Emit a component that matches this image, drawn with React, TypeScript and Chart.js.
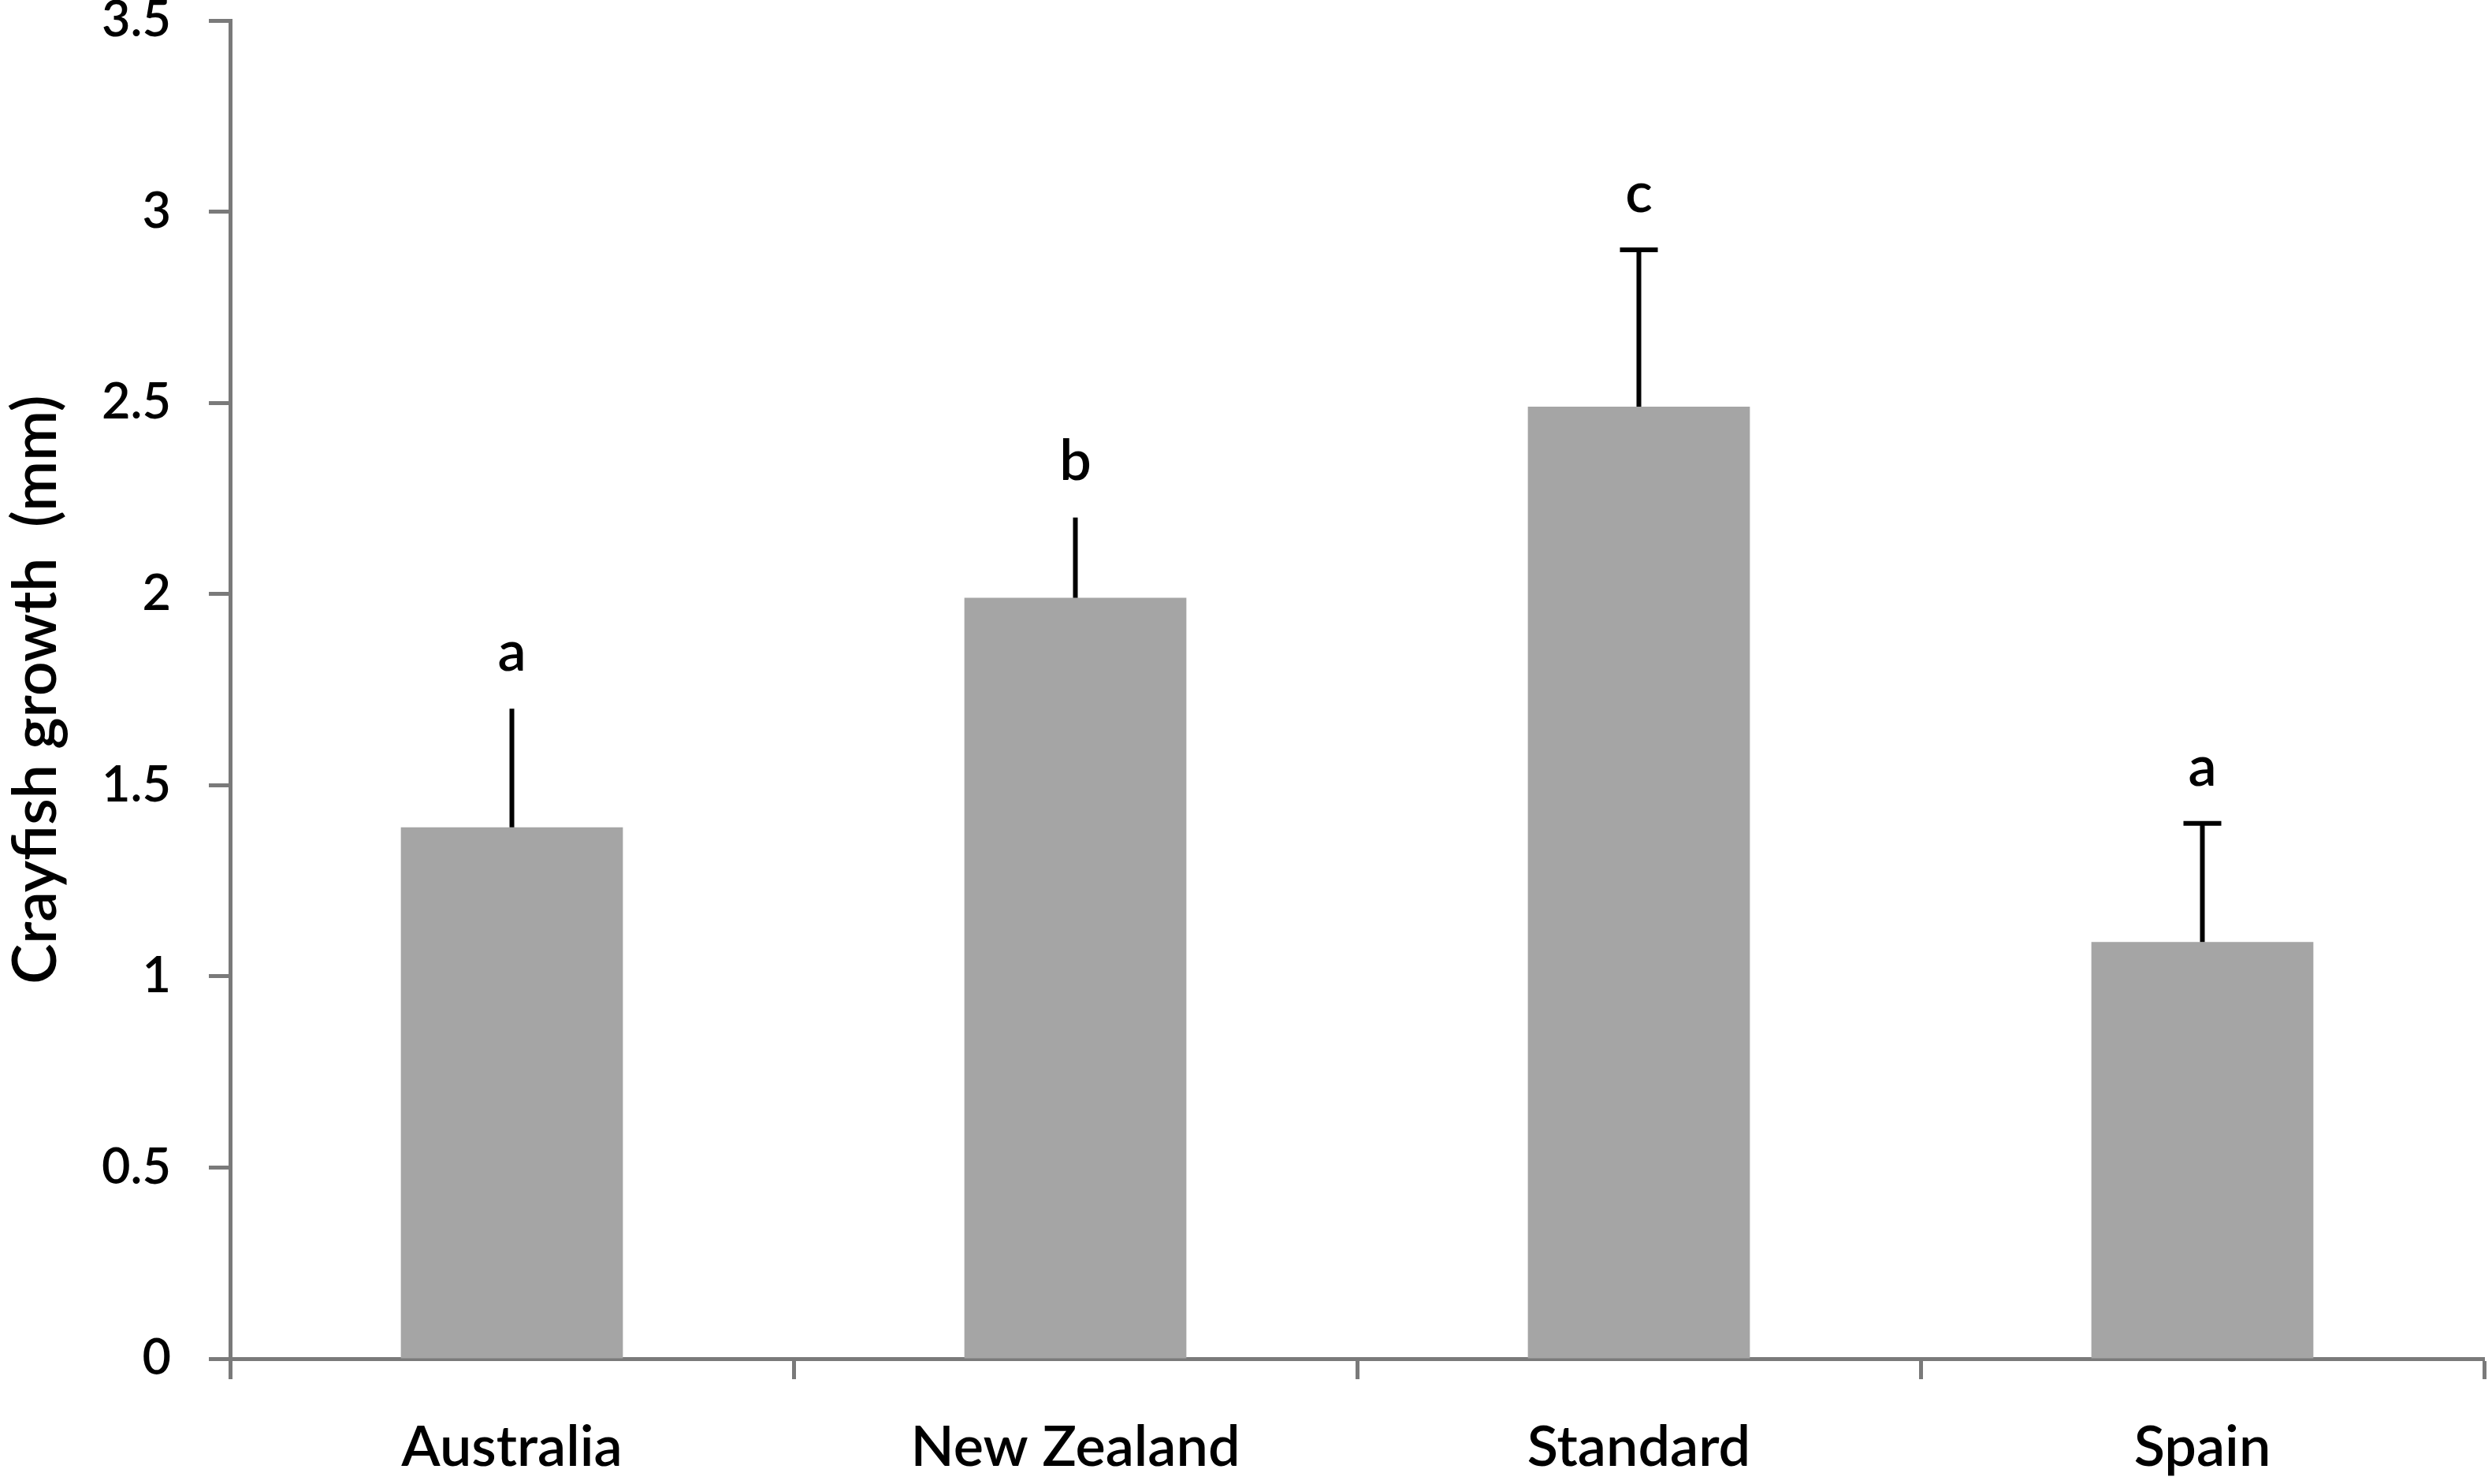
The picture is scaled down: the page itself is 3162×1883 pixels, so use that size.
import React, { useEffect, useRef } from "react";
import { Chart, registerables } from "chart.js";

Chart.register(...registerables);

const categories = ["Australia", "New Zealand", "Standard", "Spain"];
const growthMeans = [1.39, 1.99, 2.49, 1.09];
const growthErrors = [0.31, 0.21, 0.41, 0.31];
const errorCaps = [false, false, true, true];
const groupLetters = ["a", "b", "c", "a"];
const yTickValues = [0, 0.5, 1, 1.5, 2, 2.5, 3, 3.5];
const yAxisTitle = "Crayfish growth  (mm)";

const AXIS_COLOR = "#7a7a7a";
const BAR_COLOR = "#a5a5a5";
const FONT = "Lato";
const WEIGHT = 600;

const errorBarPlugin = {
  id: "errorBarsAndLetters",
  afterDatasetsDraw(chart: any) {
    const ctx = chart.ctx as CanvasRenderingContext2D;
    const meta = chart.getDatasetMeta(0);
    const yScale = chart.scales.y;
    ctx.save();
    meta.data.forEach((bar: any, i: number) => {
      const x = bar.x;
      const yBar = bar.y;
      const yTop = yScale.getPixelForValue(growthMeans[i] + growthErrors[i]);
      ctx.strokeStyle = "#000";
      ctx.lineWidth = 6;
      ctx.lineCap = "butt";
      ctx.beginPath();
      ctx.moveTo(x, yBar);
      ctx.lineTo(x, yTop);
      ctx.stroke();
      if (errorCaps[i]) {
        ctx.beginPath();
        ctx.moveTo(x - 24, yTop);
        ctx.lineTo(x + 24, yTop);
        ctx.stroke();
      }
      ctx.fillStyle = "#000";
      ctx.font = `${WEIGHT} 72px ${FONT}`;
      ctx.textAlign = "center";
      ctx.textBaseline = "alphabetic";
      ctx.fillText(groupLetters[i], x, yTop - 48);
    });
    ctx.restore();
  },
};

export default function App() {
  const canvasRef = useRef<HTMLCanvasElement | null>(null);

  useEffect(() => {
    document.body.style.margin = "0";
    const canvas = canvasRef.current;
    if (!canvas) return;
    Chart.defaults.font.family = FONT;
    const chart = new Chart(canvas, {
      type: "bar",
      data: {
        labels: categories,
        datasets: [
          {
            label: "Crayfish growth",
            data: growthMeans,
            backgroundColor: BAR_COLOR,
            borderWidth: 0,
            barPercentage: 0.394,
            categoryPercentage: 1,
          },
        ],
      },
      options: {
        responsive: false,
        animation: false,
        devicePixelRatio: 1,
        layout: { padding: { top: 26, right: 10, left: 0, bottom: 0 } },
        plugins: {
          legend: { display: false },
          tooltip: { enabled: false },
        },
        scales: {
          x: {
            offset: true,
            grid: {
              offset: true,
              drawOnChartArea: false,
              drawTicks: true,
              tickLength: 26,
              tickWidth: 5,
              color: AXIS_COLOR,
              tickColor: AXIS_COLOR,
            },
            border: { color: AXIS_COLOR, width: 5 },
            ticks: {
              color: "#000",
              font: { size: 72, family: FONT, weight: WEIGHT },
              padding: 44,
              maxRotation: 0,
              autoSkip: false,
            },
            afterFit(scale: any) {
              scale.height = 159;
              scale.paddingLeft = 0;
              scale.paddingRight = 0;
            },
          },
          y: {
            min: 0,
            max: 3.5,
            afterBuildTicks(scale: any) {
              scale.ticks = yTickValues.map((v) => ({ value: v }));
            },
            grid: {
              drawOnChartArea: false,
              drawTicks: true,
              tickLength: 27,
              tickWidth: 5,
              color: AXIS_COLOR,
              tickColor: AXIS_COLOR,
            },
            border: { color: AXIS_COLOR, width: 5 },
            ticks: {
              color: "#000",
              font: { size: 63, family: FONT, weight: WEIGHT },
              padding: 48,
              callback: (v: any) => String(v),
            },
            title: {
              display: true,
              text: yAxisTitle,
              color: "#000",
              font: { size: 77, family: FONT, weight: WEIGHT },
              padding: 0,
            },
            afterFit(scale: any) {
              scale.width = 292;
              scale.paddingTop = 0;
              scale.paddingBottom = 0;
            },
          },
        },
      },
      plugins: [errorBarPlugin],
    });
    return () => chart.destroy();
  }, []);

  return (
    <div style={{ width: 3162, height: 1883 }}>
      <canvas ref={canvasRef} width={3162} height={1883} style={{ display: "block" }} />
    </div>
  );
}
